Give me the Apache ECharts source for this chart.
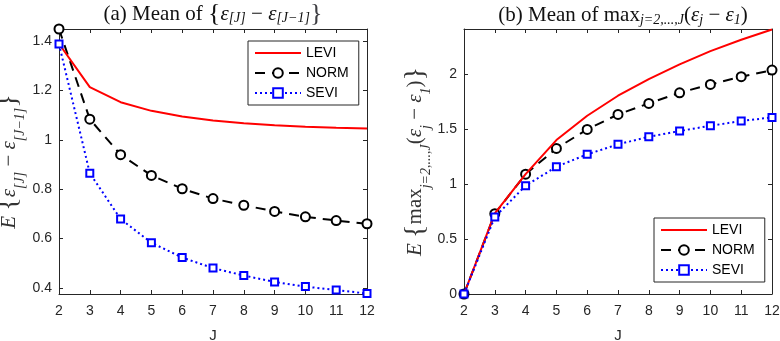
<!DOCTYPE html>
<html><head><meta charset="utf-8">
<script src="https://cdn.jsdelivr.net/npm/echarts@6/dist/echarts.min.js"></script>
<style>html,body{margin:0;padding:0;background:#fff}#c{width:780px;height:341px}</style>
</head><body><div id="c"></div>
<script>
const J = [2,3,4,5,6,7,8,9,10,11,12];
const seriesNames = ['LEVI','NORM','SEVI'];
// Panel (a): mean of eps[J] - eps[J-1]
const aLEVI = [1.390,1.214,1.153,1.118,1.095,1.079,1.068,1.060,1.053,1.049,1.046];
const aNORM = [1.450,1.084,0.940,0.856,0.802,0.762,0.735,0.710,0.688,0.673,0.660];
const aSEVI = [1.389,0.865,0.679,0.583,0.523,0.480,0.450,0.424,0.405,0.391,0.377];
// Panel (b): mean of max_{j} (eps_j - eps_1)
const bLEVI = [0,0.733,1.09,1.400,1.621,1.803,1.955,2.088,2.209,2.312,2.406];
const bNORM = [0,0.730,1.09,1.324,1.497,1.633,1.733,1.830,1.906,1.976,2.036];
const bSEVI = [0,0.700,0.985,1.157,1.270,1.361,1.430,1.482,1.530,1.573,1.606];
const aTicks = [0.4,0.6,0.8,1.0,1.2,1.4];
const bTicks = [0,0.5,1,1.5,2];
const xTicks = [2,3,4,5,6,7,8,9,10,11,12];

const AX = '#262626';
const SERIF = 'Liberation Serif, serif';
const pairs = (ys) => J.map((x,i)=>[x, ys[i]]);
const styles = {
  LEVI: {symbol:'none', lineStyle:{color:'#ff0000', width:2, type:'solid'}, itemStyle:{color:'#ff0000'}},
  NORM: {symbol:'emptyCircle', symbolSize:9, lineStyle:{color:'#000', width:2, type:[10,7]}, itemStyle:{color:'#000', borderColor:'#000', borderWidth:2}},
  SEVI: {symbol:'emptyRect', symbolSize:7, lineStyle:{color:'#0000ff', width:2, type:[2,3]}, itemStyle:{color:'#0000ff', borderColor:'#0000ff', borderWidth:2.2}}
};
function mk(name, data, xi, yi){
  return Object.assign({type:'line', name, data:pairs(data), xAxisIndex:xi, yAxisIndex:yi,
    clip:false, animation:false, showSymbol: name!=='LEVI', z: name==='LEVI'?3:(name==='NORM'?2:4)}, styles[name]);
}
const lblStyle = {color:AX, fontSize:14, fontFamily:'Liberation Sans, Arial, sans-serif'};
function xAxis(gi, top){
  return {type:'value', gridIndex:gi, min:2, max:12, position: top?'top':'bottom',
    axisLine:{show:true, onZero:false, lineStyle:{color:AX, width:1}},
    axisTick:{show:true, inside:true, length:4, customValues:xTicks, lineStyle:{color:AX}},
    axisLabel:{show:!top, customValues:xTicks, margin:10, ...lblStyle},
    splitLine:{show:false},
    name: top?'':'J', nameLocation:'middle', nameGap:34,
    nameTextStyle:{...lblStyle, fontSize:15}};
}
const nameRich = {
  it:{fontFamily:SERIF, fontStyle:'italic', fontSize:21, color:'#333'},
  e:{fontFamily:SERIF, fontStyle:'italic', fontSize:21, color:'#333'},
  t:{fontFamily:SERIF, fontSize:21, color:'#333'},
  sub:{fontFamily:SERIF, fontStyle:'italic', fontSize:14, color:'#333', verticalAlign:'bottom', padding:[0,0,-4,0]},
  br:{fontFamily:SERIF, fontSize:28, color:'#333'}
};
function yAxis(gi, right, mn, mx, ticks, name, gap){
  return {type:'value', gridIndex:gi, min:mn, max:mx, position: right?'right':'left',
    axisLine:{show:true, onZero:false, lineStyle:{color:AX, width:1}},
    axisTick:{show:true, inside:true, length:4, customValues:ticks, lineStyle:{color:AX}},
    axisLabel:{show:!right, customValues:ticks, margin:7, ...lblStyle},
    splitLine:{show:false},
    name: right?'':name, nameLocation:'middle', nameGap:gap, nameRotate:90,
    nameTextStyle:{color:'#333', fontFamily:SERIF, fontSize:28, rich:nameRich}};
}
const titleRich = {
  t:{fontFamily:SERIF, fontWeight:'normal', fontSize:21, color:'#111'},
  e:{fontFamily:SERIF, fontWeight:'normal', fontStyle:'italic', fontSize:21, color:'#111'},
  sub:{fontFamily:SERIF, fontWeight:'normal', fontStyle:'italic', fontSize:14, color:'#111', padding:[9,0,0,0]},
  br:{fontFamily:SERIF, fontWeight:'normal', fontSize:26, color:'#111'}
};
const legendBase = {orient:'vertical', itemWidth:46, itemHeight:12, itemGap:6,
  padding:[5,10,5,6], borderColor:AX, borderWidth:1, backgroundColor:'#fff',
  textStyle:{color:'#000', fontSize:14, fontFamily:'Liberation Sans, Arial, sans-serif'}, selectedMode:false};
const legendData = [{name:'LEVI', itemStyle:{opacity:0}}, {name:'NORM'}, {name:'SEVI'}];

const option = {
  backgroundColor:'#fff', animation:false,
  title:[
    {text:'{t|(a) Mean of }{br|{}{e|ε}{sub|[J]}{t| − }{e|ε}{sub|[J−1]}{br|\u007d}', left:208, top:-4, textAlign:'center',
      textStyle:{rich:titleRich, fontSize:26, fontWeight:'normal', fontFamily:SERIF}},
    {text:'{t|(b) Mean of max}{sub|j=2,...,J}{t|(}{e|ε}{sub|j}{t| − }{e|ε}{sub|1}{t|)}', left:618, top:-1, textAlign:'center',
      textStyle:{rich:titleRich, fontSize:21, fontWeight:'normal', fontFamily:SERIF}}
  ],
  grid:[
    {left:59, right:413, top:29, bottom:47, outerBoundsMode:'none', containLabel:false},
    {left:464, right:8, top:29, bottom:47, outerBoundsMode:'none', containLabel:false}
  ],
  legend:[
    Object.assign({left:248, top:41, data:legendData}, legendBase),
    Object.assign({left:654, top:218, data:legendData}, legendBase)
  ],
  xAxis:[xAxis(0,false), xAxis(0,true), xAxis(1,false), xAxis(1,true)],
  yAxis:[
    yAxis(0,false,0.375,1.45,aTicks,'{it|E }{br|{}{e|ε}{sub|[J]}{t| − }{e|ε}{sub|[J−1]}{br|\u007d}', 36),
    yAxis(0,true,0.375,1.45,aTicks,'',0),
    yAxis(1,false,0,2.41,bTicks,'{it|E }{br|{}{t|max}{sub|j=2,...,J}{t|(}{e|ε}{sub|j}{t| − }{e|ε}{sub|1}{t|)}{br|\u007d}', 34),
    yAxis(1,true,0,2.41,bTicks,'',0)
  ],
  series:[
    mk('LEVI',aLEVI,0,0), mk('NORM',aNORM,0,0), mk('SEVI',aSEVI,0,0),
    mk('LEVI',bLEVI,2,2), mk('NORM',bNORM,2,2), mk('SEVI',bSEVI,2,2)
  ]
};
const chart = echarts.init(document.getElementById('c'), null, {renderer:'canvas'});
chart.setOption(option);
</script></body></html>
